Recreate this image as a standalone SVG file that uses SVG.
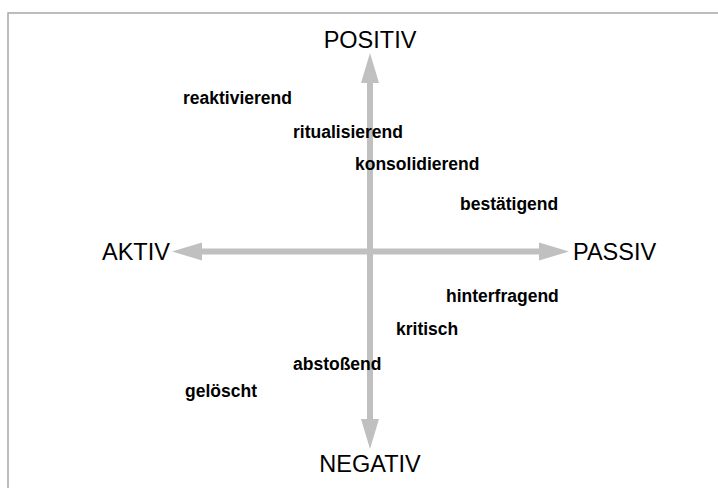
<svg xmlns="http://www.w3.org/2000/svg" width="718" height="488" viewBox="0 0 718 488">
<defs>
<style>
.ax{font-family:"Liberation Sans",Arial,sans-serif;font-size:23.5px;fill:#000}
.lb{font-family:"Liberation Sans",Arial,sans-serif;font-size:17.5px;font-weight:bold;fill:#000}
.shaft{stroke:#c0c0c0;stroke-width:6;fill:none}
.head{fill:#c0c0c0}
</style>
</defs>
<rect x="0" y="0" width="718" height="488" fill="#fff"/>
<rect x="8" y="13" width="720" height="490" fill="none" stroke="#a8a8a8" stroke-width="1.5"/>
<g id="connectors">
<line class="shaft" x1="370" y1="80" x2="370" y2="422"/>
<line class="shaft" x1="200" y1="251.5" x2="540" y2="251.5"/>
<polygon class="head" points="370,53 361,83 379,83"/>
<polygon class="head" points="370,449 361,419 379,419"/>
<polygon class="head" points="172,251.5 202,242.5 202,260.5"/>
<polygon class="head" points="569,251.5 539,242.5 539,260.5"/>
</g>
<g id="positiv"><text class="ax" x="370" y="48" text-anchor="middle">POSITIV</text></g>
<g id="negativ"><text class="ax" x="370" y="472" text-anchor="middle">NEGATIV</text></g>
<g id="aktiv"><text class="ax" x="102" y="260">AKTIV</text></g>
<g id="passiv"><text class="ax" x="573" y="260">PASSIV</text></g>
<g id="reaktivierend"><text class="lb" x="183" y="104">reaktivierend</text></g>
<g id="ritualisierend"><text class="lb" x="293" y="138">ritualisierend</text></g>
<g id="konsolidierend"><text class="lb" x="355" y="170">konsolidierend</text></g>
<g id="bestaetigend"><text class="lb" x="460" y="210">bestätigend</text></g>
<g id="hinterfragend"><text class="lb" x="446" y="302">hinterfragend</text></g>
<g id="kritisch"><text class="lb" x="396" y="335">kritisch</text></g>
<g id="abstossend"><text class="lb" x="293" y="370">abstoßend</text></g>
<g id="geloescht"><text class="lb" x="185" y="397">gelöscht</text></g>
</svg>
